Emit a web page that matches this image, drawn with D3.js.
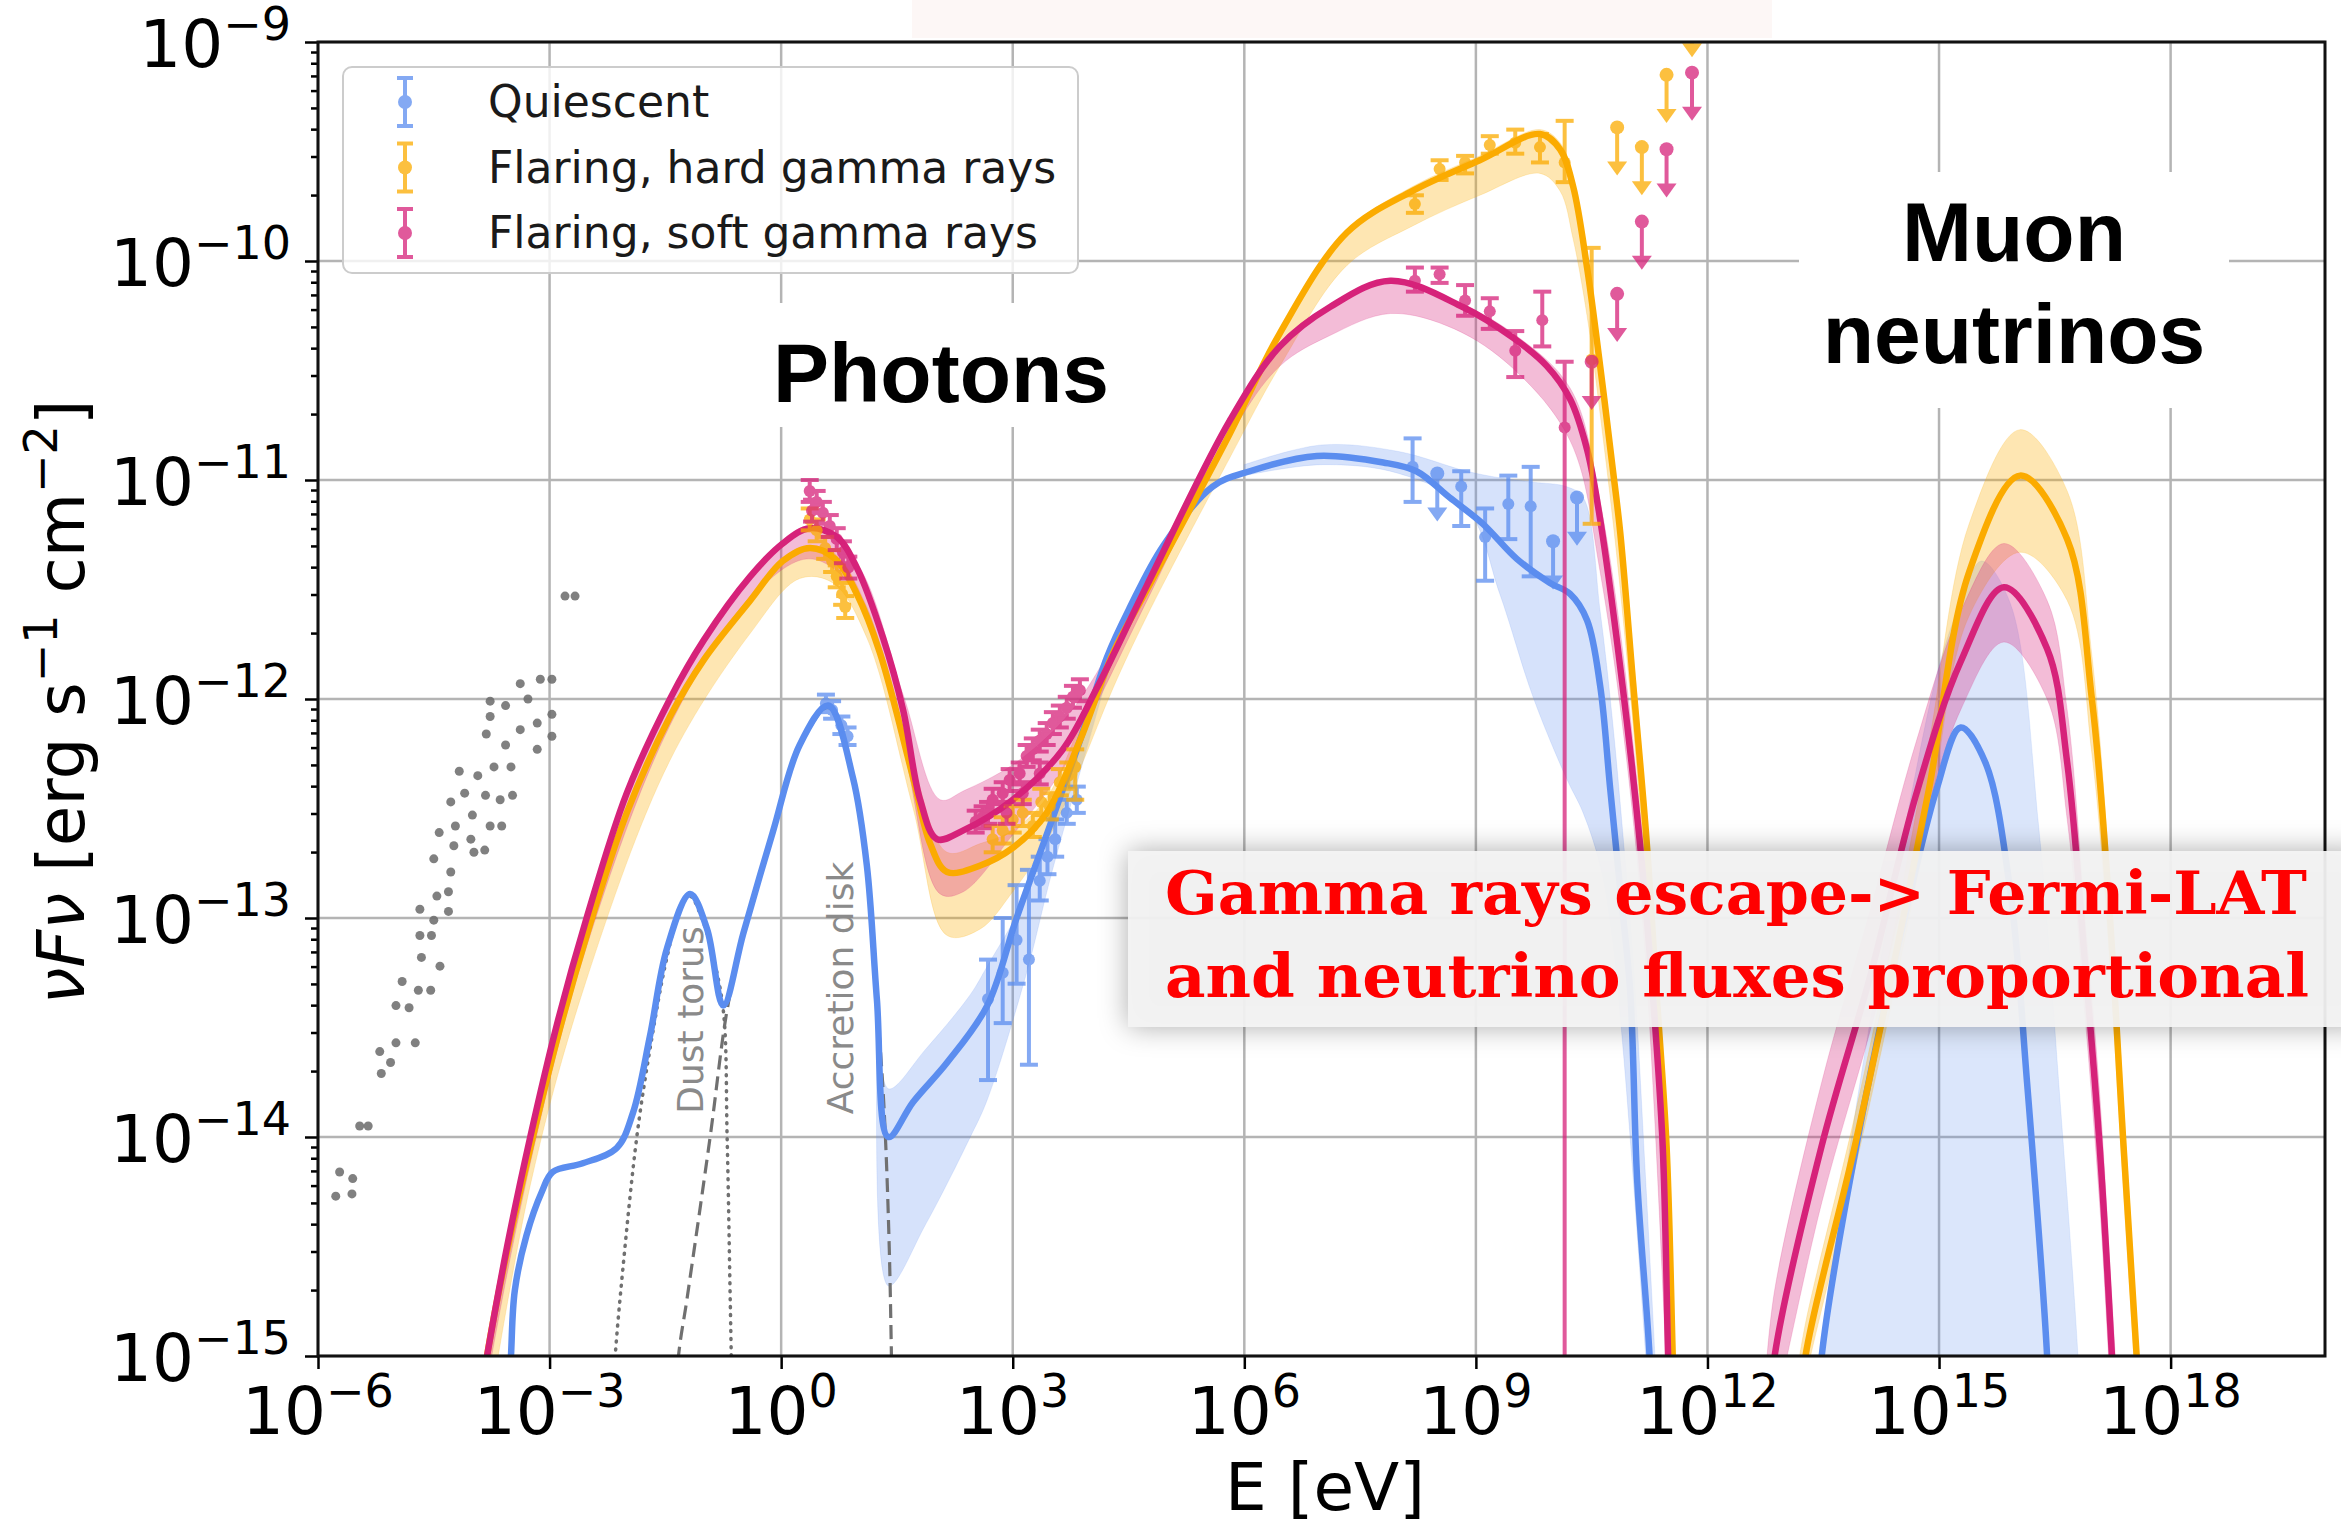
<!DOCTYPE html>
<html>
<head>
<meta charset="utf-8">
<script src="https://cdnjs.cloudflare.com/ajax/libs/d3/7.8.5/d3.min.js"></script>
<style>
body { margin: 0; background: #fff; }
svg { display: block; }
</style>
</head>
<body>
<script>
var width = 2341, height = 1540;
var plotLeft = 318, plotRight = 2325, plotTop = 42, plotBottom = 1356;

var colQui = "#5b8def", colHard = "#fbab00", colSoft = "#d6227a";

// all values are log10(E / eV), log10(nuFnu / erg s-1 cm-2)
var xTickExps = [-6, -3, 0, 3, 6, 9, 12, 15, 18];
var yTickExps = [-15, -14, -13, -12, -11, -10, -9];

// model curves
var quiPhoton = [[-3.55,-15.4],[-3.5,-15.0],[-3.45,-14.7],[-3.3,-14.45],[-3.1,-14.25],[-2.96,-14.16],[-2.57,-14.12],[-2.13,-14.05],[-1.92,-13.89],[-1.70,-13.54],[-1.48,-13.14],[-1.18,-12.89],[-0.96,-13.05],[-0.75,-13.40],[-0.49,-13.07],[-0.11,-12.61],[0.24,-12.21],[0.61,-12.03],[0.93,-12.36],[1.11,-12.76],[1.24,-13.37],[1.39,-14.0],[1.71,-13.84],[2.15,-13.66],[2.67,-13.40],[3.05,-13.0],[3.48,-12.58],[3.87,-12.19],[4.22,-11.81],[4.52,-11.58],[4.95,-11.30],[5.59,-11.03],[6.07,-10.96],[6.94,-10.89],[7.80,-10.92],[8.23,-10.96],[8.66,-11.08],[9.09,-11.20],[9.53,-11.36],[9.96,-11.47],[10.22,-11.52],[10.44,-11.64],[10.61,-11.94],[10.74,-12.41],[10.87,-12.87],[11.0,-13.34],[11.09,-14.2],[11.25,-15.0],[11.3,-15.5]];
var quiNu = [[13.4,-15.5],[13.48,-15.0],[14.01,-13.89],[14.54,-13.02],[14.97,-12.41],[15.28,-12.13],[15.6,-12.29],[15.92,-12.87],[16.14,-13.75],[16.4,-15.0],[16.45,-15.5]];
var hardPhoton = [[-3.95,-15.4],[-3.81,-15.0],[-3.55,-14.52],[-3.25,-14.05],[-2.9,-13.55],[-2.52,-13.08],[-2.0,-12.52],[-1.44,-12.08],[-1.0,-11.82],[-0.4,-11.55],[0.02,-11.37],[0.37,-11.31],[0.7,-11.36],[0.98,-11.52],[1.28,-11.79],[1.71,-12.36],[1.93,-12.66],[2.15,-12.79],[2.58,-12.76],[3.0,-12.68],[3.44,-12.52],[3.87,-12.19],[4.30,-11.79],[4.74,-11.50],[5.81,-10.79],[6.46,-10.33],[7.33,-9.87],[8.18,-9.68],[9.05,-9.54],[9.83,-9.42],[10.09,-9.49],[10.26,-9.66],[10.44,-10.03],[10.61,-10.48],[10.77,-10.94],[10.87,-11.24],[11.04,-11.94],[11.21,-12.64],[11.34,-13.34],[11.47,-14.04],[11.55,-15.0],[11.58,-15.4]];
var hardNu = [[13.2,-15.3],[13.27,-15.0],[13.91,-14.04],[14.39,-13.25],[14.87,-12.41],[15.39,-11.42],[16.05,-10.98],[16.66,-11.27],[16.98,-12.0],[17.19,-12.87],[17.39,-14.04],[17.56,-15.0],[17.6,-15.3]];
var softPhoton = [[-3.95,-15.3],[-3.81,-15.0],[-3.55,-14.5],[-3.25,-14.0],[-2.9,-13.48],[-2.52,-13.0],[-2.0,-12.43],[-1.44,-12.0],[-1.0,-11.73],[-0.4,-11.44],[0.02,-11.29],[0.37,-11.22],[0.72,-11.26],[0.98,-11.40],[1.32,-11.72],[1.58,-12.05],[1.80,-12.46],[2.02,-12.64],[2.36,-12.60],[3.0,-12.46],[3.65,-12.23],[4.09,-11.95],[4.74,-11.48],[5.81,-10.73],[6.46,-10.39],[7.11,-10.21],[7.89,-10.09],[8.83,-10.21],[9.48,-10.35],[9.92,-10.48],[10.22,-10.63],[10.44,-10.86],[10.61,-11.18],[10.90,-11.94],[11.12,-12.64],[11.29,-13.34],[11.42,-14.04],[11.49,-15.0],[11.52,-15.4]];
var softNu = [[12.8,-15.3],[12.87,-15.0],[13.48,-14.04],[14.12,-13.25],[14.70,-12.44],[15.28,-11.83],[15.84,-11.49],[16.40,-11.77],[16.66,-12.29],[16.88,-13.16],[17.08,-14.04],[17.24,-15.0],[17.28,-15.3]];

// uncertainty bands [logE, lower, upper]
var quiBandX = [[1.25,-13.45,-13.4],[1.39,-14.68,-13.78],[1.87,-14.4,-13.6],[2.45,-14.0,-13.35],[2.67,-13.83,-13.22],[3.18,-13.25,-12.9],[3.5,-12.8,-12.6],[3.9,-12.3,-12.15],[4.3,-11.8,-11.72]];
var quiBandG = [[6.0,-10.98,-10.93],[7.0,-10.93,-10.84],[8.0,-10.97,-10.87],[8.88,-11.13,-10.96],[9.31,-11.52,-10.99],[9.74,-11.99,-11.01],[10.17,-12.36,-11.03],[10.39,-12.52,-11.08],[10.61,-12.76,-11.6],[10.77,-13.1,-12.1],[10.90,-13.57,-12.6],[11.04,-14.2,-13.2],[11.2,-15.0,-14.2],[11.32,-15.6,-15.0]];
var quiBandNu = [[13.45,-16,-15.0],[14.0,-16,-13.7],[14.5,-16,-12.7],[15.0,-16,-11.85],[15.28,-16,-11.56],[15.55,-16,-11.37],[15.92,-16,-11.56],[16.29,-16,-12.58],[16.55,-16,-13.75],[16.8,-16,-15.0],[16.85,-16,-15.4]];
var hardBand = [[-3.9,-15.5,-15.25],[-3.25,-14.22,-14.02],[-2.52,-13.28,-13.05],[-1.44,-12.28,-12.07],[-0.4,-11.7,-11.53],[0.24,-11.45,-11.31],[0.67,-11.47,-11.33],[1.11,-11.72,-11.58],[1.71,-12.5,-12.3],[2.15,-13.08,-12.7],[2.58,-13.05,-12.66],[3.0,-12.88,-12.6],[3.44,-12.65,-12.45],[3.87,-12.32,-12.12],[4.3,-11.95,-11.75],[4.74,-11.62,-11.45],[5.81,-10.9,-10.77],[6.46,-10.48,-10.33],[7.33,-10.02,-9.86],[8.18,-9.84,-9.66],[9.05,-9.7,-9.52],[9.83,-9.6,-9.4],[10.09,-9.68,-9.46],[10.26,-9.9,-9.62],[10.44,-10.25,-10.0],[10.61,-10.7,-10.45],[10.87,-11.5,-11.2],[11.21,-12.9,-12.55],[11.55,-15.3,-14.9]];
var hardBandNu = [[13.15,-15.3,-15.1],[13.27,-15.1,-14.85],[13.91,-14.15,-13.9],[14.39,-13.38,-13.1],[14.87,-12.55,-12.2],[15.39,-11.62,-11.2],[16.05,-11.33,-10.77],[16.66,-11.55,-11.05],[16.98,-12.25,-11.8],[17.19,-13.1,-12.7],[17.39,-14.25,-13.85],[17.56,-15.2,-14.85],[17.6,-15.4,-15.1]];
var softBand = [[-3.95,-15.45,-15.3],[-3.81,-15.12,-14.98],[-3.25,-14.12,-13.98],[-2.52,-13.13,-12.98],[-1.44,-12.12,-11.99],[-0.4,-11.54,-11.43],[0.37,-11.36,-11.21],[0.98,-11.52,-11.38],[1.58,-12.22,-11.98],[2.06,-12.89,-12.46],[2.36,-12.88,-12.42],[3.0,-12.62,-12.3],[3.65,-12.32,-12.1],[4.09,-12.02,-11.88],[4.74,-11.55,-11.44],[5.81,-10.8,-10.71],[6.46,-10.48,-10.37],[7.11,-10.34,-10.2],[7.89,-10.24,-10.08],[8.72,-10.31,-10.18],[9.48,-10.49,-10.33],[10.22,-10.82,-10.58],[10.61,-11.42,-11.1],[11.12,-12.85,-12.5],[11.49,-15.2,-14.8],[11.55,-15.6,-15.2]];
var softBandNu = [[12.75,-15.4,-15.1],[12.87,-15.25,-14.7],[13.48,-14.3,-13.75],[14.12,-13.5,-12.95],[14.70,-12.7,-12.2],[15.28,-12.05,-11.6],[15.84,-11.74,-11.29],[16.40,-12.0,-11.55],[16.66,-12.55,-12.05],[16.88,-13.4,-12.95],[17.08,-14.3,-13.8],[17.24,-15.25,-14.75],[17.3,-15.5,-15.1]];

// thermal components of the quiescent state
var dustTorus = [[-2.2,-15.3],[-2.15,-15.0],[-2.05,-14.6],[-1.87,-14.0],[-1.7,-13.6],[-1.48,-13.18],[-1.3,-12.95],[-1.18,-12.9],[-1.05,-12.98],[-0.9,-13.15],[-0.75,-13.42],[-0.70,-14.0],[-0.66,-14.74],[-0.62,-15.5]];
var accretionDisk = [[-1.42,-15.5],[-1.33,-15.0],[-1.22,-14.74],[-0.92,-14.0],[-0.70,-13.42],[-0.49,-13.08],[-0.11,-12.62],[0.24,-12.22],[0.61,-12.04],[0.93,-12.37],[1.11,-12.77],[1.24,-13.38],[1.33,-13.85],[1.40,-14.5],[1.45,-15.5]];

// archival data (grey)
var archival = [[-2.80,-11.53],[-2.67,-11.53],[-3.38,-11.93],[-3.12,-11.91],[-2.97,-11.91],[-3.77,-12.01],[-3.57,-12.03],[-3.28,-12.00],[-3.77,-12.08],[-3.38,-12.14],[-3.16,-12.11],[-2.97,-12.07],[-3.82,-12.16],[-3.57,-12.21],[-3.16,-12.23],[-2.97,-12.17],[-4.17,-12.33],[-3.93,-12.35],[-3.72,-12.31],[-3.50,-12.31],[-4.28,-12.47],[-4.10,-12.43],[-3.83,-12.44],[-3.64,-12.46],[-3.48,-12.44],[-4.43,-12.61],[-4.22,-12.58],[-4.00,-12.53],[-3.77,-12.58],[-3.62,-12.58],[-4.24,-12.67],[-4.02,-12.64],[-3.98,-12.70],[-3.84,-12.69],[-4.50,-12.73],[-4.28,-12.79],[-4.46,-12.90],[-4.31,-12.88],[-4.31,-12.97],[-4.68,-12.96],[-4.50,-13.01],[-4.68,-13.08],[-4.53,-13.08],[-4.66,-13.18],[-4.42,-13.22],[-4.91,-13.29],[-4.70,-13.33],[-4.54,-13.33],[-4.99,-13.40],[-4.82,-13.41],[-5.20,-13.61],[-4.99,-13.57],[-4.74,-13.57],[-5.18,-13.71],[-5.06,-13.66],[-5.46,-13.95],[-5.35,-13.95],[-5.72,-14.16],[-5.77,-14.27],[-5.55,-14.19],[-5.56,-14.26]];

// measured points [logE, logF, lower, upper]
var quiPts = [[0.58,-12.02,-12.06,-11.98],[0.66,-12.05,-12.09,-12.01],[0.78,-12.12,-12.16,-12.08],[0.86,-12.17,-12.21,-12.13],
  [2.68,-13.37,-13.74,-13.19],[2.87,-13.25,-13.48,-13.0],[3.05,-13.1,-13.3,-12.85],[3.21,-13.19,-13.67,-12.78],[3.35,-12.83,-12.92,-12.72],[3.45,-12.72,-12.8,-12.64],[3.55,-12.64,-12.72,-12.55],[3.70,-12.52,-12.57,-12.46],[3.83,-12.46,-12.52,-12.40],
  [8.18,-10.94,-11.10,-10.81],[8.81,-11.03,-11.21,-10.96],[9.12,-11.26,-11.46,-11.13],[9.42,-11.11,-11.27,-10.98],[9.71,-11.12,-11.44,-10.94]];
var quiUL = [[8.50,-10.97],[10.0,-11.28],[10.31,-11.08]];
var hardPts = [[0.37,-11.18,-11.23,-11.13],[0.46,-11.23,-11.28,-11.18],[0.57,-11.31,-11.36,-11.26],[0.66,-11.37,-11.42,-11.32],[0.72,-11.44,-11.49,-11.39],[0.79,-11.52,-11.57,-11.47],[0.83,-11.58,-11.63,-11.53],
  [2.74,-12.64,-12.70,-12.58],[2.87,-12.60,-12.66,-12.54],[3.0,-12.55,-12.61,-12.49],[3.13,-12.52,-12.58,-12.46],[3.26,-12.58,-12.63,-12.52],[3.37,-12.47,-12.53,-12.41],[3.48,-12.49,-12.55,-12.43],[3.61,-12.38,-12.44,-12.32],[3.72,-12.35,-12.41,-12.29],[3.81,-12.31,-12.46,-12.23],
  [8.21,-9.74,-9.78,-9.70],[8.53,-9.58,-9.63,-9.54],[8.86,-9.55,-9.60,-9.52],[9.18,-9.47,-9.51,-9.43],[9.51,-9.46,-9.51,-9.40],[9.83,-9.48,-9.55,-9.42],[10.15,-9.55,-9.64,-9.36],[10.5,-10.45,-11.20,-9.94]];
var hardUL = [[10.83,-9.39],[11.15,-9.48],[11.47,-9.15],[11.80,-8.85]];
var softPts = [[0.37,-11.05,-11.10,-11.00],[0.40,-11.14,-11.19,-11.09],[0.46,-11.10,-11.15,-11.05],[0.54,-11.15,-11.20,-11.10],[0.63,-11.21,-11.26,-11.16],[0.72,-11.27,-11.32,-11.22],[0.80,-11.33,-11.38,-11.28],[0.87,-11.40,-11.45,-11.35],
  [2.52,-12.56,-12.61,-12.51],[2.61,-12.54,-12.59,-12.49],[2.68,-12.52,-12.57,-12.47],[2.74,-12.46,-12.51,-12.41],[2.87,-12.43,-12.48,-12.38],[2.92,-12.52,-12.57,-12.47],[2.96,-12.37,-12.42,-12.32],[3.09,-12.34,-12.39,-12.29],[3.13,-12.43,-12.48,-12.38],[3.18,-12.26,-12.31,-12.21],[3.26,-12.23,-12.28,-12.18],[3.35,-12.19,-12.24,-12.14],[3.35,-12.34,-12.39,-12.29],[3.44,-12.16,-12.21,-12.11],[3.52,-12.11,-12.16,-12.06],[3.61,-12.08,-12.13,-12.03],[3.70,-12.04,-12.09,-11.99],[3.78,-11.99,-12.04,-11.94],[3.87,-11.96,-12.01,-11.91],
  [8.21,-10.09,-10.14,-10.03],[8.53,-10.06,-10.10,-10.03],[8.86,-10.18,-10.25,-10.11],[9.18,-10.23,-10.31,-10.17],[9.51,-10.41,-10.53,-10.32],[9.86,-10.27,-10.39,-10.14],[10.15,-10.76,-15.5,-10.46]];
var softUL = [[10.50,-10.46],[10.83,-10.15],[11.15,-9.82],[11.47,-9.49],[11.80,-9.14]];

var legendLabels = ["Quiescent", "Flaring, hard gamma rays", "Flaring, soft gamma rays"];
var legendColors = [colQui, colHard, colSoft];

var x = d3.scaleLog().domain([1e-6, 1e20]).range([plotLeft, plotRight]);
var y = d3.scaleLog().domain([1e-15, 1e-9]).range([plotBottom, plotTop]);
var px = function(d) { return x(Math.pow(10, d[0])); };
var py = function(d) { return y(Math.pow(10, d[1])); };

var line = d3.line().x(px).y(py).curve(d3.curveCatmullRom.alpha(0.5));
var area = d3.area().x(px)
    .y0(function(d) { return y(Math.pow(10, d[1])); })
    .y1(function(d) { return y(Math.pow(10, d[2])); })
    .curve(d3.curveCatmullRom.alpha(0.5));

var svg = d3.select("body").append("svg")
    .attr("width", width)
    .attr("height", height)
    .style("font-family", "DejaVu Sans");

var defs = svg.append("defs");
defs.append("clipPath").attr("id", "plotclip")
    .append("rect").attr("x", plotLeft).attr("y", plotTop)
    .attr("width", plotRight - plotLeft).attr("height", plotBottom - plotTop);
var shadow = defs.append("filter").attr("id", "shadow")
    .attr("x", "-10%").attr("y", "-40%").attr("width", "120%").attr("height", "180%");
shadow.append("feDropShadow").attr("dx", 0).attr("dy", 0)
    .attr("stdDeviation", 14).attr("flood-color", "#000").attr("flood-opacity", 0.35);

// faint strip at the top of the slide
svg.append("rect").attr("x", 912).attr("y", 0).attr("width", 860).attr("height", 38).attr("fill", "#fdf7f6");

// grid
var grid = svg.append("g").attr("stroke", "#b4b4b4").attr("stroke-width", 2.5);
grid.selectAll(".vgrid").data(xTickExps).enter().append("line")
    .attr("x1", function(e) { return x(Math.pow(10, e)); })
    .attr("x2", function(e) { return x(Math.pow(10, e)); })
    .attr("y1", plotTop).attr("y2", plotBottom);
grid.selectAll(".hgrid").data(yTickExps).enter().append("line")
    .attr("y1", function(e) { return y(Math.pow(10, e)); })
    .attr("y2", function(e) { return y(Math.pow(10, e)); })
    .attr("x1", plotLeft).attr("x2", plotRight);

// white boxes behind the big labels
svg.append("rect").attr("x", 755).attr("y", 303).attr("width", 415).attr("height", 124).attr("fill", "#fff");
svg.append("rect").attr("x", 1799).attr("y", 172).attr("width", 430).attr("height", 236).attr("fill", "#fff");

var plot = svg.append("g").attr("clip-path", "url(#plotclip)");

// bands
[[quiBandX, colQui, 0.25], [quiBandG, colQui, 0.25], [quiBandNu, colQui, 0.22],
 [hardBand, colHard, 0.3], [hardBandNu, colHard, 0.3],
 [softBand, colSoft, 0.3], [softBandNu, colSoft, 0.3]].forEach(function(b) {
  plot.append("path").datum(b[0]).attr("d", area)
      .attr("fill", b[1]).attr("fill-opacity", b[2]).attr("stroke", b[1]).attr("stroke-opacity", b[2] * 0.6);
});

// thermal components
plot.append("path").datum(dustTorus).attr("d", line)
    .attr("fill", "none").attr("stroke", "#707070").attr("stroke-width", 3.5)
    .attr("stroke-dasharray", "1,7").attr("stroke-linecap", "round");
plot.append("path").datum(accretionDisk).attr("d", line)
    .attr("fill", "none").attr("stroke", "#707070").attr("stroke-width", 3.2)
    .attr("stroke-dasharray", "14,7");

// model lines
[[quiPhoton, colQui], [quiNu, colQui], [hardPhoton, colHard], [hardNu, colHard], [softPhoton, colSoft], [softNu, colSoft]].forEach(function(l) {
  plot.append("path").datum(l[0]).attr("d", line)
      .attr("fill", "none").attr("stroke", l[1]).attr("stroke-width", 6.5);
});

// component labels
svg.append("text").attr("transform", "translate(703,1020) rotate(-90)")
    .attr("text-anchor", "middle").attr("font-size", 36).attr("fill", "#8a8a8a").text("Dust torus");
svg.append("text").attr("transform", "translate(853,988) rotate(-90)")
    .attr("text-anchor", "middle").attr("font-size", 36).attr("fill", "#8a8a8a").text("Accretion disk");

// archival grey points
plot.selectAll(".arch").data(archival).enter().append("circle")
    .attr("cx", px).attr("cy", py).attr("r", 4.5).attr("fill", "#6a6a6a").attr("opacity", 0.85);

function drawPoints(pts, color) {
  var g = plot.append("g").attr("stroke", color).attr("fill", color).attr("opacity", 0.75).attr("stroke-width", 4);
  var p = g.selectAll(null).data(pts).enter().append("g");
  p.append("line").attr("x1", px).attr("x2", px)
      .attr("y1", function(d) { return y(Math.pow(10, d[2])); })
      .attr("y2", function(d) { return y(Math.pow(10, d[3])); });
  [2, 3].forEach(function(k) {
    p.append("line")
        .attr("x1", function(d) { return px(d) - 9; })
        .attr("x2", function(d) { return px(d) + 9; })
        .attr("y1", function(d) { return y(Math.pow(10, d[k])); })
        .attr("y2", function(d) { return y(Math.pow(10, d[k])); });
  });
  p.append("circle").attr("cx", px).attr("cy", py).attr("r", 6).attr("stroke", "none");
}

function drawUL(pts, color) {
  var g = plot.append("g").attr("stroke", color).attr("fill", color).attr("opacity", 0.75).attr("stroke-width", 4);
  var p = g.selectAll(null).data(pts).enter().append("g");
  var yEnd = function(d) { return y(Math.pow(10, d[1] - 0.22)); };
  p.append("line").attr("x1", px).attr("x2", px).attr("y1", py).attr("y2", function(d) { return yEnd(d) - 6; });
  p.append("path").attr("stroke", "none")
      .attr("d", function(d) {
        var cx = px(d), ty = yEnd(d);
        return "M" + (cx - 10) + "," + (ty - 14) + "L" + (cx + 10) + "," + (ty - 14) + "L" + cx + "," + ty + "Z";
      });
  p.append("circle").attr("cx", px).attr("cy", py).attr("r", 7).attr("stroke", "none");
}

drawPoints(quiPts, colQui);
drawUL(quiUL, colQui);
drawPoints(hardPts, colHard);
drawUL(hardUL, colHard);
drawPoints(softPts, colSoft);
drawUL(softUL, colSoft);

// axes
var yMinor = [];
yTickExps.slice(0, -1).forEach(function(e) {
  for (var m = 2; m < 10; m++) yMinor.push(m * Math.pow(10, e));
});
var yMinorAxis = svg.append("g").attr("transform", "translate(" + plotLeft + ",0)")
    .call(d3.axisLeft(y).tickValues(yMinor).tickSize(7).tickFormat(""));
var yAxis = svg.append("g").attr("transform", "translate(" + plotLeft + ",0)")
    .call(d3.axisLeft(y).tickValues(yTickExps.map(function(e) { return Math.pow(10, e); })).tickSize(13).tickFormat(""));
var xAxis = svg.append("g").attr("transform", "translate(0," + plotBottom + ")")
    .call(d3.axisBottom(x).tickValues(xTickExps.map(function(e) { return Math.pow(10, e); })).tickSize(13).tickFormat(""));
[yMinorAxis, yAxis, xAxis].forEach(function(a) {
  a.select(".domain").remove();
  a.selectAll("line").attr("stroke", "#000").attr("stroke-width", 2.5);
});

svg.append("rect").attr("x", plotLeft).attr("y", plotTop).attr("width", plotRight - plotLeft).attr("height", plotBottom - plotTop)
    .attr("fill", "none").attr("stroke", "#111").attr("stroke-width", 3);

function powLabel(t, e) {
  t.append("tspan").text("10");
  t.append("tspan").attr("dy", -27).attr("font-size", 46).text(e < 0 ? "\u2212" + (-e) : e);
}

svg.selectAll(".xlab").data(xTickExps).enter().append("text")
    .attr("x", function(e) { return x(Math.pow(10, e)); })
    .attr("y", 1434).attr("text-anchor", "middle").attr("font-size", 66)
    .each(function(e) { powLabel(d3.select(this), e); });
svg.selectAll(".ylab").data(yTickExps).enter().append("text")
    .attr("x", 291)
    .attr("y", function(e) { return y(Math.pow(10, e)) + 25; })
    .attr("text-anchor", "end").attr("font-size", 66)
    .each(function(e) { powLabel(d3.select(this), e); });

svg.append("text").attr("x", 1325).attr("y", 1510).attr("text-anchor", "middle")
    .attr("font-size", 66).text("E [eV]");

var yl = svg.append("text").attr("transform", "translate(84,702) rotate(-90)")
    .attr("text-anchor", "middle").attr("font-size", 66);
yl.append("tspan").attr("font-style", "italic").text("\u03bdF\u03bd");
yl.append("tspan").text(" [erg s");
yl.append("tspan").attr("dy", -27).attr("font-size", 46).text("\u22121");
yl.append("tspan").attr("dy", 27).text(" cm");
yl.append("tspan").attr("dy", -27).attr("font-size", 46).text("\u22122");
yl.append("tspan").attr("dy", 27).text("]");

// legend
var legend = svg.append("g");
legend.append("rect").attr("x", 343).attr("y", 67).attr("width", 735).attr("height", 206).attr("rx", 9)
    .attr("fill", "#fff").attr("fill-opacity", 0.8).attr("stroke", "#cccccc").attr("stroke-width", 2);
var items = legend.selectAll(".item").data(legendLabels).enter().append("g")
    .attr("transform", function(d, i) { return "translate(0," + (102 + i * 65.5) + ")"; });
items.each(function(d, i) {
  var g = d3.select(this).append("g").attr("stroke", legendColors[i]).attr("fill", legendColors[i])
      .attr("opacity", 0.75).attr("stroke-width", 4);
  g.append("line").attr("x1", 405).attr("x2", 405).attr("y1", -24).attr("y2", 24);
  g.append("line").attr("x1", 397).attr("x2", 413).attr("y1", -24).attr("y2", -24);
  g.append("line").attr("x1", 397).attr("x2", 413).attr("y1", 24).attr("y2", 24);
  g.append("circle").attr("cx", 405).attr("cy", 0).attr("r", 7).attr("stroke", "none");
});
items.append("text").attr("x", 488).attr("y", 15).attr("font-size", 44).attr("fill", "#1a1a1a")
    .text(function(d) { return d; });

// big labels
var bold = "Liberation Sans, Arial, sans-serif";
svg.append("text").attr("x", 941).attr("y", 402).attr("text-anchor", "middle")
    .attr("font-family", bold).attr("font-weight", "bold").attr("font-size", 84).text("Photons");
svg.append("text").attr("x", 2014).attr("y", 261).attr("text-anchor", "middle")
    .attr("font-family", bold).attr("font-weight", "bold").attr("font-size", 84).text("Muon");
svg.append("text").attr("x", 2014).attr("y", 363).attr("text-anchor", "middle")
    .attr("font-family", bold).attr("font-weight", "bold").attr("font-size", 84).text("neutrinos");

// annotation box
svg.append("rect").attr("x", 1128).attr("y", 851).attr("width", 1240).attr("height", 176)
    .attr("fill", "#f3f3f3").attr("fill-opacity", 0.93).attr("filter", "url(#shadow)");
var note = svg.append("g").attr("font-family", "DejaVu Serif").attr("font-weight", "bold")
    .attr("font-size", 60).attr("fill", "#ff0000");
note.append("text").attr("x", 1165).attr("y", 914).attr("textLength", 1142).attr("lengthAdjust", "spacingAndGlyphs")
    .text("Gamma rays escape-> Fermi-LAT");
note.append("text").attr("x", 1165).attr("y", 997).attr("textLength", 1144).attr("lengthAdjust", "spacingAndGlyphs")
    .text("and neutrino fluxes proportional");
</script>
</body>
</html>
